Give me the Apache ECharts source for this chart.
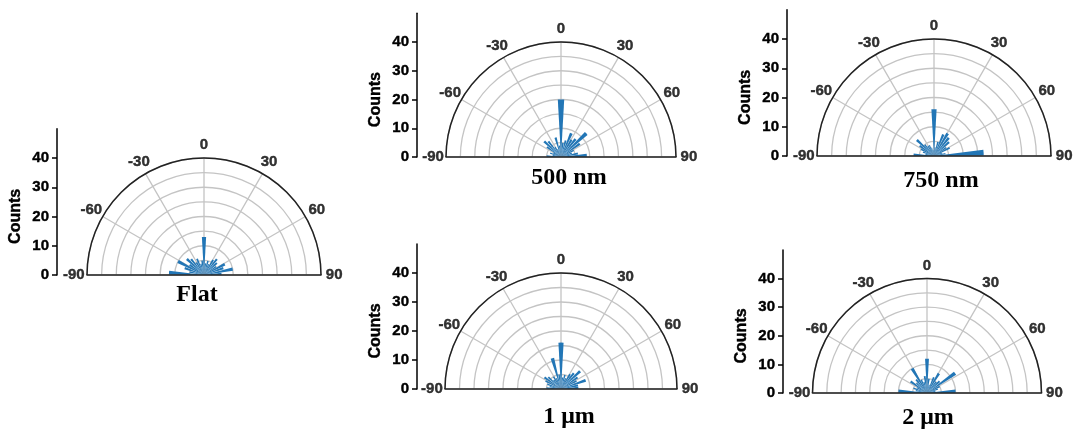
<!DOCTYPE html>
<html>
<head>
<meta charset="utf-8">
<script src="https://cdn.jsdelivr.net/npm/echarts@6/dist/echarts.min.js"></script>
<style>
html,body{margin:0;padding:0;background:#fff;}
#chart{width:1078px;height:432px;}
</style>
</head>
<body>
<div id="chart"></div>
<script>
// ---- data ----
const binCenters = [-86.1, -78.3, -70.4, -62.6, -54.8, -47.0, -39.1, -31.3, -23.5, -15.7, -7.8, 0, 7.8, 15.7, 23.5, 31.3, 39.1, 47.0, 54.8, 62.6, 70.4, 78.3, 86.1];
const countsFlat  = [12, 5, 7, 10, 6, 8, 7, 5, 6, 4, 5, 13, 4, 5, 4, 6, 7, 6, 5, 8, 7, 10, 6];
const counts500nm = [5, 3, 4, 3, 6, 8, 7, 4, 3, 7, 4, 20, 5, 6, 9, 7, 8, 12, 8, 5, 4, 6, 9];
const counts750nm = [7, 3, 4, 5, 6, 8, 5, 4, 4, 3, 2, 16, 3, 5, 8, 9, 8, 7, 5, 6, 3, 4, 17];
const counts1um   = [5, 4, 5, 6, 7, 6, 4, 5, 4, 11, 5, 16, 4, 5, 4, 6, 7, 9, 7, 6, 9, 6, 6];
const counts2um   = [10, 4, 5, 4, 7, 5, 6, 10, 5, 4, 6, 12, 5, 3, 6, 8, 5, 6, 12, 5, 4, 3, 10];
const panelNames = ['Flat', '500 nm', '750 nm', '1 μm', '2 μm'];
const panelCounts = [countsFlat, counts500nm, counts750nm, counts1um, counts2um];
const angleTickLabels = [-90, -60, -30, 0, 30, 60, 90];
const countTickLabels = [0, 10, 20, 30, 40];
const radiusMax = 40;
const countAxisMax = 50;

// ---- layout (pixels) ----
const panels = [
  {cx: 204, cy: 275, r: 117,   axisX: 57,  tx: 197, ty: 283},
  {cx: 561, cy: 157, r: 115,   axisX: 417, tx: 569, ty: 166},
  {cx: 934, cy: 156, r: 117,   axisX: 787, tx: 941, ty: 169},
  {cx: 561, cy: 389, r: 116,   axisX: 417, tx: 569, ty: 405},
  {cx: 927, cy: 393, r: 114.5, axisX: 783, tx: 928, ty: 406}
];

const sansBold = {fontFamily: 'Liberation Sans', fontWeight: 'bold', color: '#000', textBorderColor: '#000', textBorderWidth: 0.4};
const gridGray = '#c4c4c4';
const option = {
  animation: false,
  backgroundColor: '#fff',
  polar: [], angleAxis: [], radiusAxis: [],
  grid: [], xAxis: [], yAxis: [],
  series: [], graphic: []
};

panels.forEach((p, i) => {
  option.polar.push({center: [p.cx, p.cy], radius: p.r});
  option.angleAxis.push({
    polarIndex: i, type: 'value', min: -90, max: 90, interval: 30,
    startAngle: 180, endAngle: 0, clockwise: true,
    axisLine: {show: true, lineStyle: {color: '#222', width: 1.5}},
    axisTick: {show: false}, axisLabel: {show: false},
    splitLine: {show: true, lineStyle: {color: gridGray, width: 1.3}}
  });
  option.radiusAxis.push({
    polarIndex: i, type: 'value', min: 0, max: radiusMax, interval: 5,
    axisLine: {show: false}, axisTick: {show: false}, axisLabel: {show: false},
    splitLine: {show: true, lineStyle: {color: gridGray, width: 1.3}}
  });
  option.grid.push({
    left: p.cx - p.r, top: p.cy - p.r * countAxisMax / radiusMax,
    width: 2 * p.r, height: p.r * countAxisMax / radiusMax,
    containLabel: false, outerBoundsMode: 'none'
  });
  option.xAxis.push({
    gridIndex: i, type: 'value', min: 0, max: 1, z: 6,
    axisLine: {show: true, onZero: false, lineStyle: {color: '#222', width: 1.6}},
    axisTick: {show: false}, axisLabel: {show: false}, splitLine: {show: false}
  });
  option.yAxis.push({
    gridIndex: i, type: 'value', min: 0, max: countAxisMax,
    offset: (p.cx - p.r) - p.axisX,
    name: 'Counts', nameLocation: 'middle', nameGap: 33, nameRotate: 90,
    nameMoveOverlap: false,
    nameTextStyle: Object.assign({fontSize: 16, padding: [0, 29, 0, 0]}, sansBold),
    axisLine: {show: true, onZero: false, lineStyle: {color: '#000', width: 1.5}},
    axisTick: {show: true, inside: false, length: 5, customValues: countTickLabels, lineStyle: {color: '#000', width: 1.5}},
    axisLabel: Object.assign({customValues: countTickLabels, margin: 8, fontSize: 15}, sansBold),
    splitLine: {show: false}
  });
  option.series.push({
    type: 'bar', coordinateSystem: 'polar', polarIndex: i, silent: true, z: 3,
    barWidth: 6.4,
    itemStyle: {color: '#2276b6'},
    data: binCenters.map((a, j) => [panelCounts[i][j], a])
  });
  option.series.push({
    type: 'scatter', coordinateSystem: 'polar', polarIndex: i, silent: true, clip: false,
    symbolSize: 1, itemStyle: {color: 'rgba(0,0,0,0)'},
    label: Object.assign({show: true, position: 'inside', fontSize: 15, formatter: (d) => String(d.value[1])}, sansBold),
    data: angleTickLabels.map(a => [radiusMax + 4.5, a])
  });
  option.graphic.push({
    type: 'text', x: p.tx, y: p.ty, silent: true,
    style: {text: panelNames[i], align: 'center', verticalAlign: 'top',
      font: 'bold 24px "Liberation Serif"', fill: '#000'}
  });
});

const chart = echarts.init(document.getElementById('chart'), null, {renderer: 'canvas'});
chart.setOption(option);
</script>
</body>
</html>
